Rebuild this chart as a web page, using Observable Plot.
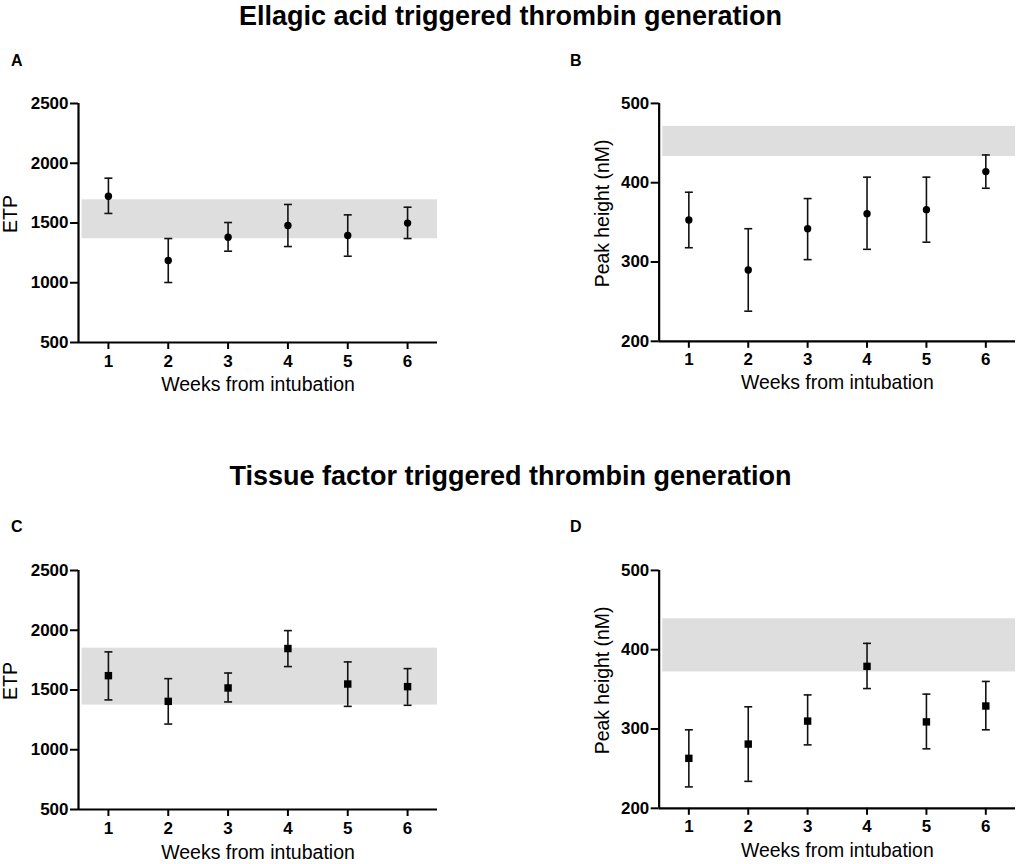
<!DOCTYPE html>
<html>
<head>
<meta charset="utf-8">
<script src="https://cdn.jsdelivr.net/npm/d3@7"></script>
<script src="https://cdn.jsdelivr.net/npm/@observablehq/plot@0.6"></script>
<style>
  html, body { margin: 0; padding: 0; background: #fff; overflow: hidden; }
  #root { position: relative; width: 1021px; height: 864px; font-family: "Liberation Sans", Arial, sans-serif; }
  .title { position: absolute; left: 0; width: 1021px; text-align: center; font-weight: bold; font-size: 27px; color: #000; }
  .letter { position: absolute; font-weight: bold; font-size: 16px; color: #000; }
  .panel { position: absolute; }
</style>
</head>
<body>
<div id="root">
  <div class="title" style="top:1px">Ellagic acid triggered thrombin generation</div>
  <div class="title" style="top:461px">Tissue factor triggered thrombin generation</div>
  <div class="letter" style="left:11px;top:52px">A</div>
  <div class="letter" style="left:570px;top:52px">B</div>
  <div class="letter" style="left:11px;top:518px">C</div>
  <div class="letter" style="left:570px;top:518px">D</div>
  <div class="panel" id="pA" style="left:0px;top:83px"></div>
  <div class="panel" id="pB" style="left:581px;top:83px"></div>
  <div class="panel" id="pC" style="left:0px;top:550px"></div>
  <div class="panel" id="pD" style="left:581px;top:550px"></div>
</div>
<script>
// ---- data ----
const weeks = [1, 2, 3, 4, 5, 6];
const xLabel = "Weeks from intubation";

// A: Ellagic acid ETP
const etpEAMean = [1724, 1186, 1381, 1479, 1395, 1499];
const etpEALow  = [1580, 1002, 1264, 1303, 1222, 1370];
const etpEAHigh = [1875, 1370, 1504, 1655, 1568, 1632];
const etpEABand = [1368, 1694];

// B: Ellagic acid peak height
const peakEAMean = [353, 290, 342, 361, 366, 414];
const peakEALow  = [318, 238, 303, 316, 325, 393];
const peakEAHigh = [388, 342, 380, 407, 407, 435];
const peakEABand = [433, 471];

// C: Tissue factor ETP
const etpTFMean = [1620, 1405, 1517, 1847, 1550, 1528];
const etpTFLow  = [1417, 1215, 1400, 1696, 1363, 1372];
const etpTFHigh = [1819, 1595, 1642, 1997, 1735, 1679];
const etpTFBand = [1374, 1850];

// D: Tissue factor peak height
const peakTFMean = [263, 281, 310, 379, 309, 329];
const peakTFLow  = [227, 234, 280, 351, 275, 299];
const peakTFHigh = [299, 328, 343, 408, 344, 360];
const peakTFBand = [372, 439];

const etpTicks = [500, 1000, 1500, 2000, 2500];
const peakTicks = [200, 300, 400, 500];

// ---- drawing ----
const capSymbol = {
  draw(ctx, size) {
    const w = Math.sqrt(size / Math.PI);
    ctx.moveTo(-w, 0);
    ctx.lineTo(w, 0);
  }
};

function panel({mean, low, high, band, yTicks, yLabel, symbol, r, labelDx, plotWidth, bottomMargin, xLabelDy}) {
  const rows = weeks.map((w, i) => ({week: w, mean: mean[i], low: low[i], high: high[i]}));
  const yDomain = [yTicks[0], yTicks[yTicks.length - 1]];
  return Plot.plot({
    width: 78 + plotWidth + 6,
    height: 20 + 239 + bottomMargin,
    marginLeft: 78,
    marginRight: 6,
    marginTop: 20,
    marginBottom: bottomMargin,
    style: {fontFamily: "'Liberation Sans', Arial, sans-serif", fontSize: "17px", fontWeight: "bold", color: "#000", background: "transparent", overflow: "visible"},
    x: {domain: [0.5, 6.5]},
    y: {domain: yDomain},
    marks: [
      Plot.rect([band], {x1: 0.56, x2: 6.5, y1: d => d[0], y2: d => d[1], fill: "#dedede"}),
      Plot.ruleX(rows, {x: "week", y1: "low", y2: "high", stroke: "#111", strokeWidth: 1.6}),
      Plot.dot(rows, {x: "week", y: "high", symbol: capSymbol, r: 4, stroke: "#111", strokeWidth: 1.6, fill: "none"}),
      Plot.dot(rows, {x: "week", y: "low", symbol: capSymbol, r: 4, stroke: "#111", strokeWidth: 1.6, fill: "none"}),
      Plot.dot(rows, {x: "week", y: "mean", symbol: symbol, r: r, fill: "#000", stroke: "none"}),
      Plot.axisX({ticks: weeks, tickSize: 7, tickPadding: 5, strokeWidth: 2, label: null, fontSize: 17, fontWeight: "bold", tickFormat: d => String(d)}),
      Plot.axisY({ticks: yTicks, tickSize: 8, tickPadding: 2, strokeWidth: 2, label: null, fontSize: 17, fontWeight: "bold", tickFormat: d => String(d)}),
      Plot.ruleX([0.5], {stroke: "#000", strokeWidth: 2.2}),
      Plot.ruleY([yDomain[0]], {stroke: "#000", strokeWidth: 2.2}),
      Plot.text([xLabel], {text: d => d, frameAnchor: "bottom", dy: xLabelDy, fontSize: 19.5, fontWeight: "normal", lineAnchor: "middle"}),
      Plot.text([yLabel], {text: d => d, frameAnchor: "left", dx: labelDx, dy: -9, rotate: -90, fontSize: 19.5, fontWeight: "normal", lineAnchor: "middle", textAnchor: "middle"})
    ]
  });
}

document.getElementById("pA").appendChild(panel({
  mean: etpEAMean, low: etpEALow, high: etpEAHigh, band: etpEABand,
  yTicks: etpTicks, yLabel: "ETP", symbol: "circle", r: 3.7, labelDx: -68,
  plotWidth: 359, bottomMargin: 60, xLabelDy: 42
}));
document.getElementById("pB").appendChild(panel({
  mean: peakEAMean, low: peakEALow, high: peakEAHigh, band: peakEABand,
  yTicks: peakTicks, yLabel: "Peak height (nM)", symbol: "circle", r: 3.7, labelDx: -57,
  plotWidth: 358, bottomMargin: 60, xLabelDy: 42
}));
document.getElementById("pC").appendChild(panel({
  mean: etpTFMean, low: etpTFLow, high: etpTFHigh, band: etpTFBand,
  yTicks: etpTicks, yLabel: "ETP", symbol: "square", r: 4.2, labelDx: -68,
  plotWidth: 359, bottomMargin: 52, xLabelDy: 43
}));
document.getElementById("pD").appendChild(panel({
  mean: peakTFMean, low: peakTFLow, high: peakTFHigh, band: peakTFBand,
  yTicks: peakTicks, yLabel: "Peak height (nM)", symbol: "square", r: 4.2, labelDx: -57,
  plotWidth: 358, bottomMargin: 52, xLabelDy: 43
}));
</script>
</body>
</html>
